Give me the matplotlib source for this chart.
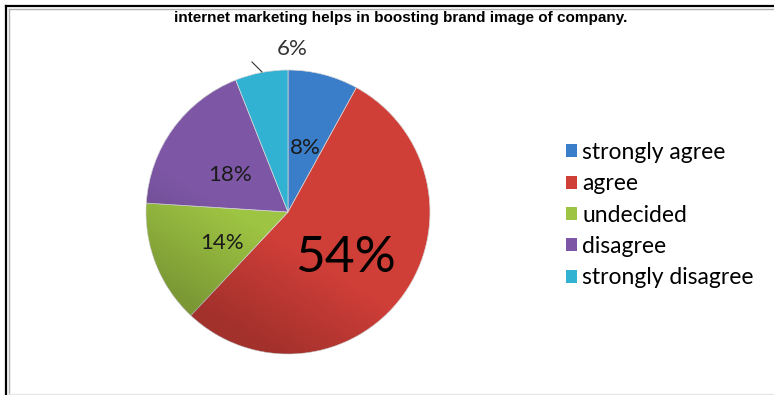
import numpy as np
import matplotlib
matplotlib.use('Agg')
import matplotlib.pyplot as plt
from matplotlib.patches import Circle, Patch

# survey answers
answers = ['strongly agree', 'agree', 'undecided', 'disagree', 'strongly disagree']
shares = [8, 54, 14, 18, 6]
colors = ['#3a7dc8', '#d03e38', '#9ec443', '#7d57a5', '#32b2d3']
title = 'internet marketing helps in boosting brand image of company.'

plt.rcParams['font.family'] = ['Lato', 'DejaVu Sans']

W, H = 774, 395
fig = plt.figure(figsize=(W / 100, H / 100), dpi=100)

# pie axes: 300x300 px square centred on the pie
cx, cy = 288, H - 212
ax = fig.add_axes([(cx - 150) / W, (cy - 150) / H, 300 / W, 300 / H])
R = 1.42
wedges, texts, autotexts = ax.pie(shares, colors=colors, radius=R, startangle=90,
                                  counterclock=False, autopct='%d%%', pctdistance=0.5,
                                  wedgeprops=dict(edgecolor='#d8d8d8', linewidth=0.5),
                                  textprops=dict(fontsize=16, color='#1a1a1a'))
ax.set_xlim(-1.5, 1.5)
ax.set_ylim(-1.5, 1.5)
ax.set_aspect('equal')
ax.axis('off')

# nudge the labels down a little
for t in autotexts:
    x, y = t.get_position()
    t.set_position((x, y - 0.045))

# big label for the majority slice
autotexts[1].set_fontsize(37)
autotexts[1].set_color('black')

# small slice label sits above the pie with a leader line
autotexts[4].set_position((0.04, 1.63))
autotexts[4].set_color('#333333')
ax.plot([-0.26, -0.36], [1.40, 1.50], color='#333333', lw=0.8, clip_on=False)

# soft shading, darker towards the bottom
n = 300
gx, gy = np.meshgrid(np.linspace(-1.5, 1.5, n), np.linspace(-1.5, 1.5, n))
shade = np.clip((-(0.6 * gx + gy) / 1.6 - 0.2) * 0.3, 0, 0.22)
rgba = np.zeros((n, n, 4))
rgba[..., 3] = shade
im = ax.imshow(rgba, extent=(-1.5, 1.5, -1.5, 1.5), origin='lower', zorder=2)
im.set_clip_path(Circle((0, 0), R, transform=ax.transData))
for t in autotexts:
    t.set_zorder(3)

fig.text(401 / W, 1 - 18 / H, title, ha='center', va='center',
         fontsize=11, fontweight='bold', family=['Liberation Sans', 'DejaVu Sans'])

handles = [Patch(facecolor=c, edgecolor='none') for c in colors]
fig.legend(handles, answers, loc='upper left', bbox_to_anchor=(566 / W, 1 - 142 / H),
           frameon=False, fontsize=16.5, handlelength=0.5, handleheight=0.5,
           handletextpad=0.2, labelspacing=0.45, borderpad=0, borderaxespad=0)

# frame lines along the top and left edge
frame = fig.add_axes([0, 0, 1, 1], zorder=-1)
frame.set_xlim(0, W)
frame.set_ylim(H, 0)
frame.axis('off')
frame.plot([5.5, W], [5.5, 5.5], color='black', lw=1.6)
frame.plot([5.5, 5.5], [5.5, H], color='black', lw=1.6)
frame.plot([8.5, W], [8.5, 8.5], color='#b0b0b0', lw=1.0)
frame.plot([8.5, 8.5], [8.5, H], color='#b0b0b0', lw=1.0)
frame.plot([8.5, W], [H - 1, H - 1], color='#e6e6e6', lw=1.0)

fig.savefig('out.png', dpi=100)
